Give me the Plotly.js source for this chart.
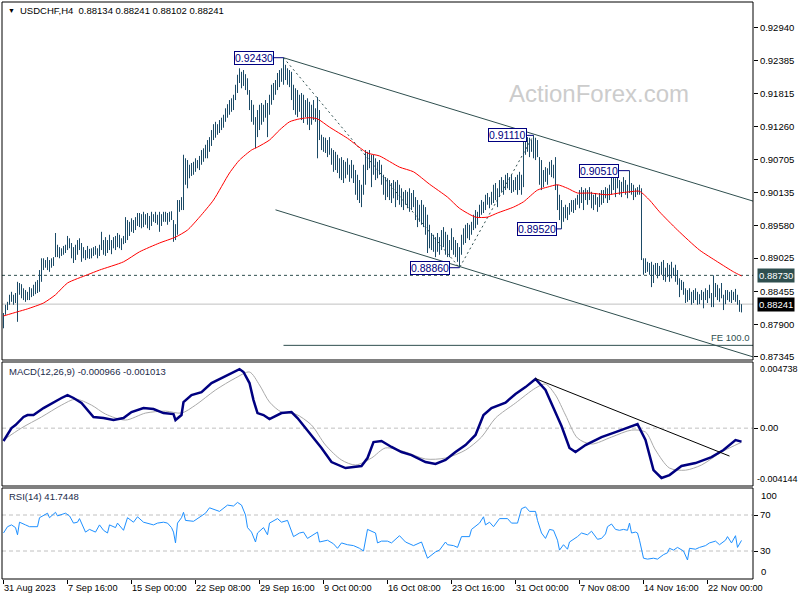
<!DOCTYPE html>
<html><head><meta charset="utf-8">
<script src="https://cdn.plot.ly/plotly-3.0.1.min.js"></script>
<style>html,body{margin:0;padding:0;background:#fff}#chart{width:800px;height:600px}</style>
</head><body><div id="chart"></div>
<script>
// ---- price bars (H4), values in pips (1 pip = 0.0001) ----
const barHighPips = [
8809,8823,8828,8840,8845,8840,8843,8862,8860,8858,
8851,8848,8845,8853,8851,8857,8862,8865,8882,8902,
8902,8899,8904,8899,8902,8904,8945,8925,8921,8919,
8923,8925,8940,8936,8928,8921,8925,8933,8936,8928,
8921,8916,8923,8918,8919,8921,8923,8919,8925,8947,
8933,8938,8933,8942,8933,8938,8940,8945,8942,8936,
8940,8972,8967,8964,8970,8967,8972,8979,8979,8977,
8981,8977,8979,8974,8981,8977,8981,8976,8981,8977,
8981,8981,8979,8981,8982,8967,8960,9001,9001,9006,
9078,9072,9069,9061,9064,9066,9072,9069,9076,9086,
9089,9095,9103,9108,9120,9130,9134,9130,9137,9141,
9146,9157,9164,9171,9174,9180,9197,9214,9225,9219,
9222,9215,9208,9188,9171,9163,9142,9154,9163,9166,
9163,9171,9166,9180,9197,9200,9205,9217,9222,9225,
9243,9231,9225,9222,9219,9197,9191,9188,9180,9183,
9180,9171,9174,9168,9163,9171,9157,9176,9154,9112,
9108,9107,9103,9108,9089,9086,9083,9078,9072,9074,
9069,9066,9072,9061,9069,9061,9052,9044,9035,9027,
9061,9086,9083,9086,9078,9078,9072,9066,9069,9061,
9044,9040,9038,9035,9030,9035,9032,9035,9027,9021,
9015,9018,9015,9021,9013,9018,9006,9001,8993,9001,
8993,8989,8976,8959,8945,8942,8938,8945,8938,8950,
8955,8947,8942,8933,8953,8938,8933,8928,8921,8942,
8953,8959,8962,8959,8964,8976,8984,8981,8993,9001,
8998,9010,9013,9006,9015,9027,9030,9021,9035,9040,
9035,9044,9047,9040,9044,9035,9040,9044,9049,9044,
9108,9110,9108,9107,9103,9111,9107,9103,9074,9069,
9052,9057,9055,9066,9069,9061,9074,9027,9010,9001,
8989,8993,8989,8996,9001,9001,9004,9010,9018,9023,
9018,9021,9018,9023,9015,9010,9013,9006,9013,9018,
9018,9023,9021,9027,9047,9044,9038,9044,9035,9032,
9040,9035,9027,9051,9030,9027,9021,9023,9027,9021,
8902,8902,8896,8894,8896,8891,8894,8894,8889,8896,
8899,8886,8894,8891,8896,8886,8891,8882,8868,8865,
8862,8851,8848,8851,8845,8848,8851,8845,8841,8848,
8845,8851,8848,8857,8843,8873,8860,8857,8851,8860,
8840,8848,8848,8845,8848,8845,8850,8840,8831,8824];
const barLowPips = [
8783,8806,8814,8823,8828,8823,8826,8794,8840,8834,
8831,8828,8831,8831,8836,8838,8841,8843,8845,8862,
8882,8886,8882,8879,8886,8889,8904,8904,8902,8906,
8908,8911,8916,8919,8902,8894,8899,8908,8916,8896,
8902,8899,8902,8901,8902,8906,8908,8902,8906,8916,
8908,8906,8911,8916,8909,8919,8916,8921,8919,8916,
8926,8928,8933,8940,8947,8945,8950,8957,8955,8953,
8955,8959,8953,8950,8957,8964,8962,8959,8947,8957,
8964,8964,8959,8964,8967,8930,8933,8942,8981,8984,
8984,9027,9021,9038,9042,9044,9049,9055,9052,9061,
9066,9072,9072,9083,9093,9103,9107,9112,9115,9120,
9124,9134,9141,9146,9151,9154,9171,9183,9200,9191,
9195,9188,9180,9154,9134,9129,9089,9108,9120,9129,
9134,9141,9108,9146,9163,9171,9180,9188,9193,9202,
9197,9205,9197,9193,9171,9154,9146,9142,9151,9137,
9132,9142,9129,9120,9129,9137,9134,9072,9103,9086,
9083,9081,9074,9078,9061,9049,9052,9047,9038,9035,
9030,9038,9044,9032,9038,9030,9010,9001,8996,8989,
9010,9027,9052,9055,9023,9044,9035,9038,9044,9027,
9010,9001,9006,9001,8996,9004,8989,9001,8993,8989,
8984,8993,8987,8981,8984,8989,8967,8955,8964,8959,
8955,8942,8911,8919,8916,8913,8904,8913,8908,8916,
8921,8908,8904,8904,8916,8908,8904,8896,8886,8908,
8925,8928,8936,8933,8942,8950,8953,8959,8972,8976,
8979,8984,8993,8987,8993,8996,9001,8989,9006,9015,
9010,9018,9021,9018,9013,9015,9018,9010,9018,9010,
9023,9078,9083,9074,9083,9072,9069,9074,9027,9018,
9023,9032,9027,9044,9040,9038,9018,8984,8967,8952,
8964,8970,8967,8976,8981,8979,8984,8993,8987,8996,
8984,9001,8993,9001,8987,8984,8993,8981,8989,8993,
8996,9004,8996,9001,9010,9018,9006,9021,9010,9006,
9015,9010,9004,9013,9010,9001,9006,9010,9010,8899,
8874,8877,8879,8874,8853,8860,8874,8868,8872,8874,
8865,8862,8870,8862,8868,8872,8862,8857,8836,8848,
8840,8826,8828,8831,8823,8826,8831,8823,8824,8831,
8817,8831,8826,8834,8819,8819,8836,8831,8828,8834,
8814,8824,8831,8828,8826,8831,8828,8823,8811,8810];

// ---- moving average (red) ----
const maIndex = [0,7,12,20,26,32,42,48,60,68,78,86,92,98,105,113,118,124,127,133,138,143,148,153,157,163,172,182,188,198,205,213,222,228,236,242,247,255,260,267,272,277,282,287,293,302,308,313,318,323,328,337,348,357,365,369];
const maPips = [8804,8811,8816,8826,8840,8860,8874,8882,8896,8913,8928,8938,8950,8972,9001,9047,9069,9086,9091,9103,9120,9134,9139,9141,9139,9125,9106,9081,9076,9057,9049,9028,9006,8987,8972,8972,8979,8989,8998,9018,9023,9027,9021,9013,9013,9010,9013,9015,9016,9001,8981,8950,8916,8896,8879,8872];

// ---- MACD(12,26,9) ----
const macdIndex = [0,4,6,10,12,15,20,25,29,32,35,39,42,45,50,55,60,64,70,75,80,85,86,89,90,94,99,104,109,114,118,120,123,125,127,130,133,139,144,147,151,155,159,164,171,179,182,185,189,194,199,204,211,216,221,226,231,236,240,244,251,256,261,266,271,275,279,283,286,291,299,306,314,317,321,325,329,333,339,346,354,360,366,369];
const macdValue = [-0.00092,0.00001,0.00022,0.00080,0.00094,0.00094,0.00144,0.00187,0.00216,0.00237,0.00216,0.00180,0.00130,0.00080,0.00072,0.00058,0.00072,0.00115,0.00144,0.00137,0.00108,0.00101,0.00058,0.00094,0.00187,0.00237,0.00258,0.00323,0.00359,0.00395,0.00423,0.00402,0.00323,0.00201,0.00108,0.00094,0.00065,0.00108,0.00115,0.00072,0.00000,-0.00071,-0.00142,-0.00243,-0.00286,-0.00271,-0.00214,-0.00100,-0.00092,-0.00135,-0.00171,-0.00193,-0.00243,-0.00257,-0.00228,-0.00171,-0.00121,-0.00049,0.00094,0.00144,0.00183,0.00244,0.00294,0.00352,0.00273,0.00144,0.00015,-0.00142,-0.00171,-0.00121,-0.00064,-0.00028,0.00015,0.00029,-0.00085,-0.00300,-0.00357,-0.00336,-0.00271,-0.00250,-0.00207,-0.00157,-0.00085,-0.000966];
const signalIndex = [0,9,19,29,36,44,51,61,71,81,89,96,106,116,123,128,133,139,146,154,161,169,176,184,191,201,211,221,231,239,246,256,266,271,276,281,287,294,304,314,321,326,333,341,349,359,369];
const signalValue = [-0.00085,0.00001,0.00080,0.00165,0.00208,0.00165,0.00101,0.00058,0.00108,0.00122,0.00108,0.00165,0.00273,0.00359,0.00402,0.00309,0.00187,0.00115,0.00101,0.00022,-0.00121,-0.00228,-0.00264,-0.00214,-0.00142,-0.00171,-0.00221,-0.00214,-0.00157,-0.00064,0.00072,0.00180,0.00287,0.00316,0.00237,0.00094,-0.00071,-0.00114,-0.00064,-0.00014,-0.00028,-0.00157,-0.00286,-0.00301,-0.00264,-0.00171,-0.001013];
const macdTrendIndex = [266,363];
const macdTrendValue = [0.00355,-0.00200];

// ---- RSI(14) ----
const rsiIndex = [0,2,4,6,7,8,11,13,17,18,22,23,26,27,31,33,35,37,38,40,41,43,46,48,50,52,53,56,57,60,62,65,67,70,72,75,77,80,82,84,85,86,87,89,90,91,95,98,101,103,108,112,115,117,119,121,122,124,126,127,130,132,133,137,139,142,145,148,150,152,157,158,162,165,167,169,172,175,178,180,182,186,187,189,192,194,198,201,205,209,212,216,218,221,222,225,227,229,232,233,234,238,240,241,243,245,248,252,254,257,259,261,263,266,267,269,271,273,275,277,278,280,282,283,287,289,292,294,297,299,301,302,304,306,308,310,312,313,314,316,317,318,320,322,325,327,330,332,333,335,337,340,342,343,346,348,351,353,356,358,361,362,364,366,367,369];
const rsiValue = [50,57,59,56,48,62,59,57,57,67,72,67,73,69,72,69,61,62,66,57,51,54,51,59,53,50,59,56,61,53,67,62,68,62,61,59,61,62,61,56,51,39,61,67,73,64,63,68,72,78,74,81,80,84,81,70,56,51,40,50,56,48,61,66,62,64,46,50,51,44,51,40,42,38,33,39,37,36,33,30,54,50,39,41,41,39,47,40,36,40,22,29,31,40,37,36,34,46,46,46,54,61,68,59,62,57,66,66,61,61,77,79,74,74,64,50,44,54,53,42,31,37,32,40,46,50,48,52,43,44,49,57,60,54,53,54,53,61,50,51,50,42,22,21,22,21,26,28,33,31,34,30,20,33,32,34,36,39,41,37,42,46,39,47,34,41.7448];

// ---- levels, swings, channel ----
const swingIndex = [140,228,265,279,313];
const swingPrice = [0.92430,0.88860,0.91110,0.89520,0.90510];
const upperChannelIndex = [140,375];
const upperChannelPrice = [0.92430,0.89990];
const lowerChannelIndex = [136,375];
const lowerChannelPrice = [0.89844,0.87341];
const feLevel = 0.87540;
const feStartIndex = 140;
const resistanceLevel = 0.88730;
const lastPrice = 0.88241;
const lastOHLC = ['0.88134','0.88241','0.88102','0.88241'];
const macdNow = ['-0.000966','-0.001013'];
const rsiNow = '41.7448';

const priceTicks = [0.92940,0.92385,0.91815,0.91260,0.90705,0.90135,0.89580,0.89025,0.88455,0.87900,0.87345];
const macdScale = [-0.004144,0.004738];
const rsiLevels = [70,30];
const timeTickIndex = [0,32,64,96,128,160,192,224,256,288,320,352];
const timeTickText = ['31 Aug 2023','7 Sep 16:00','15 Sep 00:00','22 Sep 08:00','29 Sep 16:00','9 Oct 00:00','16 Oct 08:00','23 Oct 16:00','31 Oct 00:00','7 Nov 08:00','14 Nov 16:00','22 Nov 00:00'];

// ---- build ----
const XR = [-0.75, 374.75];
const barX = [], barY = [];
for (let i = 0; i < barHighPips.length; i++) {
  barX.push(i, i, null);
  barY.push(barLowPips[i] / 1e4, barHighPips[i] / 1e4, null);
}
const slate = '#2F4F4F', navy = '#000080';
const traces = [];
const ln = (x, y, color, width, dash, ya) => ({type:'scatter', mode:'lines', x, y, xaxis:'x', yaxis: ya || 'y',
  line:{color, width, dash: dash || 'solid'}, hoverinfo:'skip'});

traces.push(ln(XR, [lastPrice, lastPrice], '#C0C0C0', 1));
traces.push(ln(XR, [resistanceLevel, resistanceLevel], slate, 1, '3px,3px'));
traces.push(ln(upperChannelIndex, upperChannelPrice, slate, 1));
traces.push(ln(lowerChannelIndex, lowerChannelPrice, slate, 1));
traces.push(ln([feStartIndex, XR[1]], [feLevel, feLevel], slate, 1));
traces.push(ln([swingIndex[0], swingIndex[1], swingIndex[2]], [swingPrice[0], swingPrice[1], swingPrice[2]], slate, 1, '2px,3px'));
traces.push({type:'scatter', mode:'lines', x:barX, y:barY, xaxis:'x', yaxis:'y', line:{color:'#1b4a66', width:1}, hoverinfo:'skip', connectgaps:false});
traces.push({type:'scatter', mode:'lines', x:maIndex, y:maPips.map(v => v / 1e4), xaxis:'x', yaxis:'y', line:{color:'#FF0000', width:1, shape:'spline', smoothing:0.6}, hoverinfo:'skip'});

// label connectors (box right edge offset in bars)
const boxGap = [4.75, 4.75, 3.25, 2.25, 5.25];
swingIndex.forEach((ix, k) => traces.push(ln([ix - boxGap[k], ix], [swingPrice[k], swingPrice[k]], navy, 1)));

// MACD
traces.push(ln(XR, [0, 0], '#C0C0C0', 1, '4px,3px', 'y2'));
traces.push({type:'scatter', mode:'lines', x:signalIndex, y:signalValue, xaxis:'x', yaxis:'y2', line:{color:'#AAAAAA', width:1, shape:'spline', smoothing:0.8}, hoverinfo:'skip'});
traces.push({type:'scatter', mode:'lines', x:macdIndex, y:macdValue, xaxis:'x', yaxis:'y2', line:{color:'#000080', width:2.5}, hoverinfo:'skip'});
traces.push(ln(macdTrendIndex, macdTrendValue, '#000000', 1, 'solid', 'y2'));

// RSI
rsiLevels.forEach(l => traces.push(ln(XR, [l, l], '#C0C0C0', 1, '4px,3px', 'y3')));
traces.push({type:'scatter', mode:'lines', x:rsiIndex, y:rsiValue, xaxis:'x', yaxis:'y3', line:{color:'#1E90FF', width:1}, hoverinfo:'skip'});

// geometry helpers for paper coords (plot area 2..753 x, 2..579 y)
const px = X => (X - 2) / 751;
const py = Y => (579 - Y) / 577;
const dMain = [py(360), 1], dMacd = [py(486), py(362)], dRsi = [0, py(488)];
const FONT = 'Liberation Sans, Arial, sans-serif';

const annotations = [
  {xref:'paper', yref:'paper', x:px(6), y:py(11), xanchor:'left', yanchor:'middle', text:'▼', showarrow:false, font:{size:7, color:'#000', family:FONT}},
  {xref:'paper', yref:'paper', x:px(18), y:py(11), xanchor:'left', yanchor:'middle', showarrow:false,
   text:'USDCHF,H4\u00a0\u00a0' + lastOHLC.join(' '), font:{size:9.5, color:'#000', family:FONT}},
  {xref:'paper', yref:'paper', x:px(599), y:py(93), xanchor:'center', yanchor:'middle', showarrow:false,
   text:'ActionForex.com', font:{size:24, color:'#CCCCCC', family:FONT}},
  {xref:'paper', yref:'y', x:px(752), y:feLevel, xanchor:'right', yanchor:'bottom', showarrow:false,
   text:'FE 100.0', font:{size:9.5, color:slate, family:FONT}},
  {xref:'paper', yref:'y', x:px(757), y:resistanceLevel, xanchor:'left', yanchor:'middle', showarrow:false,
   text:resistanceLevel.toFixed(5), bgcolor:slate, borderpad:1, font:{size:9.5, color:'#fff', family:FONT}},
  {xref:'paper', yref:'y', x:px(757), y:lastPrice, xanchor:'left', yanchor:'middle', showarrow:false,
   text:lastPrice.toFixed(5), bgcolor:'#000', borderpad:1, font:{size:9.5, color:'#fff', family:FONT}},
  {xref:'paper', yref:'paper', x:px(7), y:py(372), xanchor:'left', yanchor:'middle', showarrow:false,
   text:'MACD(12,26,9) ' + macdNow.join(' '), font:{size:9.5, color:'#1a2a4a', family:FONT}},
  {xref:'paper', yref:'paper', x:px(7), y:py(496), xanchor:'left', yanchor:'middle', showarrow:false,
   text:'RSI(14) ' + rsiNow, font:{size:9.5, color:'#1a2a4a', family:FONT}},
  {xref:'paper', yref:'y2', x:px(758), y:macdScale[1], xanchor:'left', yanchor:'top', showarrow:false,
   text:macdScale[1].toFixed(6), font:{size:9, color:'#000', family:FONT}},
  {xref:'paper', yref:'y2', x:px(755), y:macdScale[0], xanchor:'left', yanchor:'bottom', showarrow:false,
   text:macdScale[0].toFixed(6), font:{size:9, color:'#000', family:FONT}},
  {xref:'paper', yref:'y3', x:px(759), y:100, xanchor:'left', yanchor:'top', showarrow:false,
   text:'100', font:{size:9.5, color:'#000', family:FONT}},
  {xref:'paper', yref:'y3', x:px(759), y:-1.1, xanchor:'left', yanchor:'bottom', showarrow:false,
   text:'0', font:{size:9.5, color:'#000', family:FONT}}
];
swingIndex.forEach((ix, k) => annotations.push({
  xref:'x', yref:'y', x:ix - boxGap[k], y:swingPrice[k], xanchor:'right', yanchor:'middle', showarrow:false,
  text:swingPrice[k].toFixed(5), bgcolor:'#fff', bordercolor:navy, borderwidth:1, borderpad:0,
  font:{size:10.5, color:navy, family:FONT}}));

const border = d => ({type:'rect', xref:'paper', yref:'paper', x0:0, x1:1, y0:d[0], y1:d[1], line:{color:'#000', width:1}, fillcolor:'rgba(0,0,0,0)'});

const yBase = {side:'right', anchor:'x', showgrid:false, zeroline:false, ticks:'outside', ticklen:4, tickcolor:'#000',
  tickfont:{size:9.5, color:'#000', family:FONT}, fixedrange:true, showline:false};

const layout = {
  width:800, height:600, margin:{l:2, r:47, t:2, b:21}, paper_bgcolor:'#fff', plot_bgcolor:'#fff', showlegend:false,
  font:{family:FONT, size:9.5, color:'#000'},
  xaxis:{range:XR, anchor:'y3', domain:[0,1], showgrid:false, zeroline:false, showline:false,
    tickmode:'array', tickvals:timeTickIndex, ticktext:timeTickText, ticks:'outside', ticklen:4, tickcolor:'#000',
    tickangle:0, ticklabelposition:'outside right', tickfont:{size:9.2, color:'#000', family:FONT}, fixedrange:true},
  yaxis:Object.assign({}, yBase, {domain:dMain, range:[0.87291, 0.93377], tickmode:'array', tickvals:priceTicks, ticktext:priceTicks.map(v => v.toFixed(5))}),
  yaxis2:Object.assign({}, yBase, {domain:dMacd, range:macdScale, tickmode:'array', tickvals:[0], ticktext:['0.00']}),
  yaxis3:Object.assign({}, yBase, {domain:dRsi, range:[-1.1, 100], tickmode:'array', tickvals:rsiLevels, ticktext:rsiLevels.map(String)}),
  shapes:[border(dMain), border(dMacd), border(dRsi)],
  annotations
};
Plotly.newPlot('chart', traces, layout, {staticPlot:true, displayModeBar:false});
</script></body></html>
